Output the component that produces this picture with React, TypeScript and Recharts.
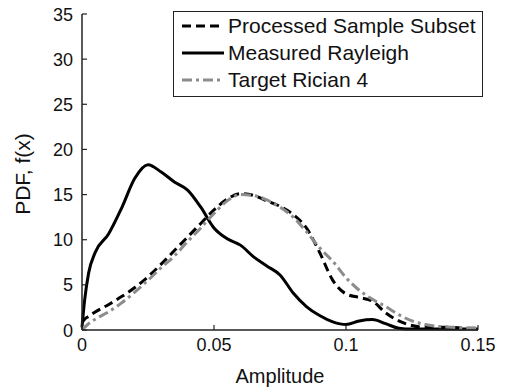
import React from 'react';
import { LineChart, Line, XAxis, YAxis, Legend } from 'recharts';

// amplitude grid (x) and the three pdf curves
const amplitude = [
  0, 0.001, 0.0025, 0.005, 0.01, 0.015, 0.02, 0.025, 0.03, 0.035, 0.04, 0.045, 0.05,
  0.055, 0.06, 0.065, 0.07, 0.075, 0.08, 0.085, 0.09, 0.095, 0.1, 0.105, 0.11, 0.115,
  0.12, 0.125, 0.13, 0.135, 0.14, 0.145, 0.15,
];
const processedSubset = [
  0.8, 1.2, 1.5, 2.0, 2.8, 3.7, 4.7, 5.9, 7.3, 8.8, 10.3, 11.8, 13.3,
  14.5, 15.1, 14.9, 14.3, 13.7, 12.8, 11.3, 8.6, 5.5, 4.0, 3.6, 3.2, 1.9,
  1.0, 0.5, 0.3, 0.3, 0.3, 0.2, 0.2,
];
const measuredRayleigh = [
  0.3, 3.3, 6.3, 8.6, 10.6, 13.5, 16.8, 18.3, 17.5, 16.4, 15.5, 13.6, 11.3,
  10.1, 9.4, 8.1, 7.1, 6.1, 4.1, 2.6, 1.6, 0.9, 0.6, 1.0, 1.15, 0.7,
  0.2, 0.1, 0.1, 0.1, 0.1, 0.1, 0.1,
];
const targetRician = [
  0.1, 0.3, 0.7, 1.2, 2.0, 3.0, 4.2, 5.5, 6.9, 8.2, 9.8, 11.3, 12.9,
  14.3, 15.0, 14.9, 14.4, 13.6, 12.5, 10.9, 9.1, 7.6, 5.8, 4.4, 3.4, 2.6,
  1.7, 1.0, 0.6, 0.4, 0.3, 0.2, 0.2,
];
const seriesNames = ['Processed Sample Subset', 'Measured Rayleigh', 'Target Rician 4'];
const xTicks = [0, 0.05, 0.1, 0.15];
const yTicks = [0, 5, 10, 15, 20, 25, 30, 35];

const data = amplitude.map((x, i) => ({
  x,
  processed: processedSubset[i],
  rayleigh: measuredRayleigh[i],
  rician: targetRician[i],
}));

const FONT = '"Liberation Sans", Arial, Helvetica, sans-serif';
const AXIS = '#222';
const TEXT = '#111';

const BottomTick = (props: any) => {
  const { x, y, payload } = props;
  return (
    <g>
      <line x1={x} x2={x} y1={y} y2={y - 5} stroke={AXIS} strokeWidth={1.2} />
      <text x={x} y={y + 21} textAnchor="middle" fontSize={18} fontFamily={FONT} fill={TEXT}>
        {payload.value}
      </text>
    </g>
  );
};

const LeftTick = (props: any) => {
  const { x, y, payload } = props;
  return (
    <g>
      <line x1={x} x2={x + 5} y1={y} y2={y} stroke={AXIS} strokeWidth={1.2} />
      <text x={x - 9} y={y + 6.5} textAnchor="end" fontSize={18} fontFamily={FONT} fill={TEXT}>
        {payload.value}
      </text>
    </g>
  );
};

const TopTick = (props: any) => {
  const { x, y } = props;
  return <line x1={x} x2={x} y1={y} y2={y + 5} stroke={AXIS} strokeWidth={1.2} />;
};

const RightTick = (props: any) => {
  const { x, y } = props;
  return <line x1={x} x2={x - 5} y1={y} y2={y} stroke={AXIS} strokeWidth={1.2} />;
};

const YLabel = (props: any) => {
  const { viewBox } = props;
  const cx = viewBox.x;
  const cy = viewBox.y + viewBox.height / 2 + 2;
  return (
    <text
      x={0}
      y={0}
      transform={`translate(${cx},${cy}) rotate(-90)`}
      textAnchor="middle"
      dominantBaseline="central"
      fontSize={21}
      fontFamily={FONT}
      fill={TEXT}
    >
      PDF, f(x)
    </text>
  );
};

const LegendBox = (props: any) => {
  const items = [...(props.payload || [])].sort(
    (a: any, b: any) => seriesNames.indexOf(a.value) - seriesNames.indexOf(b.value),
  );
  return (
    <div
      style={{
        width: 310,
        height: 86,
        boxSizing: 'border-box',
        border: `1.5px solid ${AXIS}`,
        background: '#fff',
        fontFamily: FONT,
        fontSize: 21,
        color: TEXT,
        padding: '0 0 0 8px',
      }}
    >
      {items.map((item: any) => (
        <div key={item.value} style={{ display: 'flex', alignItems: 'center', height: 27 }}>
          <svg width={42} height={10} style={{ display: 'block' }}>
            <line
              x1={0}
              x2={42}
              y1={5}
              y2={5}
              stroke={item.color}
              strokeWidth={3}
              strokeDasharray={item.payload?.strokeDasharray}
            />
          </svg>
          <span style={{ marginLeft: 4, lineHeight: '27px', whiteSpace: 'nowrap' }}>{item.value}</span>
        </div>
      ))}
    </div>
  );
};

export default function App() {
  return (
    <div style={{ position: 'absolute', left: 0, top: 0, background: '#fff' }}>
      <LineChart width={510} height={390} data={data} margin={{ top: 14, right: 32, bottom: 0, left: 22 }}>
        <XAxis
          dataKey="x"
          type="number"
          domain={[0, 0.15]}
          ticks={xTicks}
          height={60}
          tickSize={0}
          tickMargin={0}
          tick={<BottomTick />}
          tickLine={false}
          axisLine={{ stroke: AXIS, strokeWidth: 1.5 }}
          label={{ value: 'Amplitude', position: 'insideBottom', offset: 7, fontSize: 20, fill: TEXT, fontFamily: FONT }}
        />
        <XAxis
          xAxisId="top"
          orientation="top"
          dataKey="x"
          type="number"
          domain={[0, 0.15]}
          ticks={xTicks}
          height={0}
          tickSize={0}
          tickMargin={0}
          tick={<TopTick />}
          tickLine={false}
          axisLine={{ stroke: AXIS, strokeWidth: 1.5 }}
        />
        <YAxis
          type="number"
          domain={[0, 35]}
          ticks={yTicks}
          width={60}
          tickSize={0}
          tickMargin={0}
          tick={<LeftTick />}
          tickLine={false}
          axisLine={{ stroke: AXIS, strokeWidth: 1.5 }}
          label={{ content: <YLabel /> }}
        />
        <YAxis
          yAxisId="right"
          orientation="right"
          type="number"
          domain={[0, 35]}
          ticks={yTicks}
          width={0}
          tickSize={0}
          tickMargin={0}
          tick={<RightTick />}
          tickLine={false}
          axisLine={{ stroke: AXIS, strokeWidth: 1.5 }}
        />
        <Legend
          layout="vertical"
          align="center"
          verticalAlign="middle"
          wrapperStyle={{ left: 173, top: 11, width: 310, height: 86 }}
          content={<LegendBox />}
        />
        <Line
          type="monotone"
          dataKey="processed"
          name={seriesNames[0]}
          stroke="#000"
          strokeWidth={3}
          strokeDasharray="9 5"
          dot={false}
          isAnimationActive={false}
        />
        <Line
          type="monotone"
          dataKey="rayleigh"
          name={seriesNames[1]}
          stroke="#000"
          strokeWidth={3}
          dot={false}
          isAnimationActive={false}
        />
        <Line
          type="monotone"
          dataKey="rician"
          name={seriesNames[2]}
          stroke="#8c8c8c"
          strokeWidth={3}
          strokeDasharray="10 4 3 4"
          dot={false}
          isAnimationActive={false}
        />
      </LineChart>
    </div>
  );
}
